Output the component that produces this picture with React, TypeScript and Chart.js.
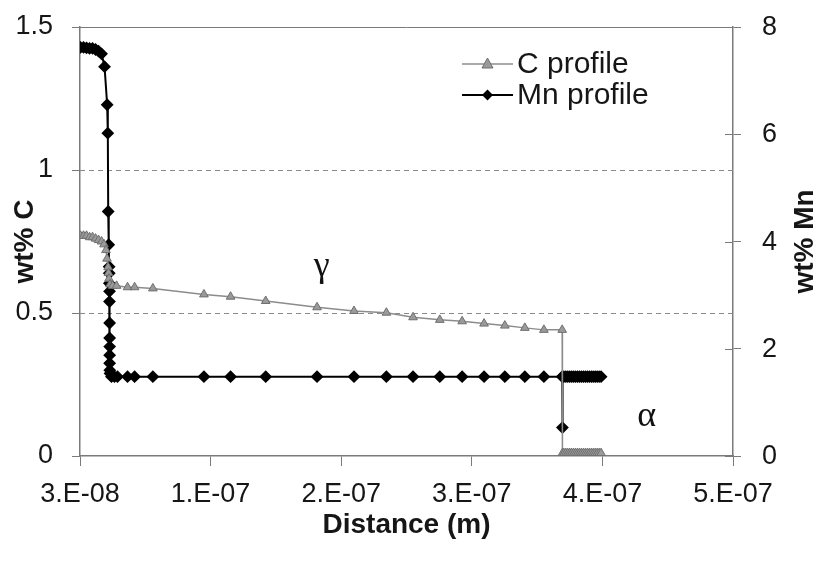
import { useEffect, useRef } from "react";
import { Chart, registerables } from "chart.js";

Chart.register(...registerables);

const X_TICKS = [3e-8, 1.3e-7, 2.3e-7, 3.3e-7, 4.3e-7, 5.3e-7];
const X_TICK_LABELS = ["3.E-08", "1.E-07", "2.E-07", "3.E-07", "4.E-07", "5.E-07"];

const C_LABEL = "C profile";
const MN_LABEL = "Mn profile";
const X_TITLE = "Distance (m)";
const Y_TITLE = "wt% C";
const Y1_TITLE = "wt% Mn";

const C_X = [
  30.4e-9, 32.7e-9, 35.0e-9, 37.3e-9, 39.6e-9, 41.9e-9, 44.2e-9, 46.5e-9, 48.4e-9, 49.9e-9,
  50.7e-9, 51.5e-9, 51.8e-9, 52.2e-9, 53.0e-9, 55.0e-9, 58.0e-9, 66.4e-9, 71.8e-9, 85.8e-9,
  124.9e-9, 145.3e-9, 172.2e-9, 211.5e-9, 239.8e-9, 264.6e-9, 285.0e-9, 305.5e-9, 322.6e-9,
  339.4e-9, 355.3e-9, 370.6e-9, 385.2e-9, 399.2e-9,
  399.4e-9, 400.5e-9, 402.0e-9, 403.5e-9, 405.0e-9, 406.5e-9, 408.0e-9, 409.5e-9, 411.0e-9,
  412.5e-9, 414.0e-9, 415.5e-9, 417.0e-9, 418.5e-9, 420.0e-9, 421.5e-9, 423.0e-9, 424.5e-9,
  426.0e-9, 427.5e-9, 429.0e-9,
];
const C_Y = [
  0.77, 0.77, 0.77, 0.765, 0.765, 0.76, 0.755, 0.75, 0.74, 0.72,
  0.69, 0.66, 0.64, 0.62, 0.6, 0.595, 0.595, 0.59, 0.59, 0.586,
  0.565, 0.557, 0.542, 0.52, 0.507, 0.501, 0.485, 0.476, 0.471,
  0.463, 0.456, 0.448, 0.441, 0.441,
  0.01, 0.01, 0.01, 0.01, 0.01, 0.01, 0.01, 0.01, 0.01,
  0.01, 0.01, 0.01, 0.01, 0.01, 0.01, 0.01, 0.01, 0.01,
  0.01, 0.01, 0.01,
];

const MN_X = [
  30.4e-9, 32.7e-9, 35.0e-9, 37.3e-9, 39.6e-9, 41.9e-9, 44.2e-9, 46.5e-9, 48.8e-9, 50.8e-9,
  51.3e-9, 51.6e-9, 52.0e-9, 52.3e-9, 52.4e-9, 52.5e-9, 52.6e-9, 52.6e-9, 52.7e-9, 52.7e-9,
  52.7e-9, 52.7e-9, 52.7e-9, 52.8e-9, 53.0e-9, 54.1e-9, 56.4e-9, 58.7e-9, 66.4e-9, 71.8e-9,
  85.8e-9, 124.9e-9, 145.3e-9, 172.2e-9, 211.5e-9, 239.8e-9, 264.6e-9, 285.0e-9, 305.5e-9,
  322.6e-9, 339.4e-9, 355.3e-9, 370.6e-9, 385.2e-9, 399.2e-9,
  399.4e-9,
  399.6e-9, 400.5e-9, 402.0e-9, 403.5e-9, 405.0e-9, 406.5e-9, 408.0e-9, 409.5e-9, 411.0e-9,
  412.5e-9, 414.0e-9, 415.5e-9, 417.0e-9, 418.5e-9, 420.0e-9, 421.5e-9, 423.0e-9, 424.5e-9,
  426.0e-9, 427.5e-9, 429.0e-9,
];
const MN_Y = [
  7.62, 7.62, 7.61, 7.6, 7.6, 7.58, 7.55, 7.5, 7.26, 6.55,
  6.02, 4.56, 3.94, 3.53, 3.41, 3.22, 3.07, 2.88, 2.48, 2.2,
  2.04, 1.88, 1.73, 1.6, 1.54, 1.48, 1.48, 1.48, 1.48, 1.48,
  1.48, 1.48, 1.48, 1.48, 1.48, 1.48, 1.48, 1.48, 1.48,
  1.48, 1.48, 1.48, 1.48, 1.48, 1.48,
  0.53,
  1.48, 1.48, 1.48, 1.48, 1.48, 1.48, 1.48, 1.48, 1.48,
  1.48, 1.48, 1.48, 1.48, 1.48, 1.48, 1.48, 1.48, 1.48,
  1.48, 1.48, 1.48,
];

// annotation anchors (data coordinates on x / left y axis)
const GAMMA_POS = { x: 215e-9, y: 0.63, text: "γ" };
const ALPHA_POS = { x: 464e-9, y: 0.105, text: "α" };

const FONT = "'Liberation Sans', Arial, sans-serif";
const AXIS_COLOR = "#7a7a7a";
const TEXT_COLOR = "#161616";
const C_LINE = "#8c8c8c";
const C_FILL = "#9a9a9a";

const decorPlugin = {
  id: "decor",
  beforeDatasetsDraw(chart: any) {
    const { ctx, chartArea, scales } = chart;
    const y = scales.y;
    const y1 = scales.y1;
    ctx.save();
    ctx.strokeStyle = "#8a8a8a";
    ctx.lineWidth = 1;
    ctx.setLineDash([5, 4]);
    for (const v of [0.5, 1]) {
      const py = Math.round(y.getPixelForValue(v)) + 0.5;
      ctx.beginPath();
      ctx.moveTo(chartArea.left, py);
      ctx.lineTo(chartArea.right, py);
      ctx.stroke();
    }
    ctx.setLineDash([]);
    ctx.strokeStyle = AXIS_COLOR;
    const pTop = Math.round(y.getPixelForValue(1.5)) + 0.5;
    ctx.beginPath();
    ctx.moveTo(chartArea.left, pTop);
    ctx.lineTo(chartArea.right, pTop);
    ctx.stroke();
    // inward ticks + labels on the right axis
    ctx.fillStyle = TEXT_COLOR;
    ctx.font = `27px ${FONT}`;
    ctx.textAlign = "left";
    ctx.textBaseline = "middle";
    for (const t of y1.ticks) {
      const py = Math.round(y1.getPixelForValue(t.value)) + 0.5;
      ctx.beginPath();
      ctx.moveTo(chartArea.right - 8, py);
      ctx.lineTo(chartArea.right, py);
      ctx.stroke();
      ctx.fillText(String(t.value), chartArea.right + 29, py);
    }
    // right axis title, rotated like the left one
    ctx.save();
    ctx.translate(805, (chartArea.top + chartArea.bottom) / 2);
    ctx.rotate(-Math.PI / 2);
    ctx.font = `bold 28px ${FONT}`;
    ctx.textAlign = "center";
    ctx.textBaseline = "middle";
    ctx.fillText(Y1_TITLE, 0, 0);
    ctx.restore();
    ctx.restore();
  },
  afterDatasetsDraw(chart: any) {
    const { ctx, scales } = chart;
    const x = scales.x;
    const y = scales.y;
    ctx.save();
    // legend
    const lx0 = 462;
    const lx1 = 513;
    const rows = [
      { label: C_LABEL, yy: 64, color: C_LINE, width: 1.5, marker: "tri" },
      { label: MN_LABEL, yy: 95, color: "#000", width: 2, marker: "dia" },
    ];
    for (const r of rows) {
      ctx.strokeStyle = r.color;
      ctx.lineWidth = r.width;
      ctx.beginPath();
      ctx.moveTo(lx0, r.yy);
      ctx.lineTo(lx1, r.yy);
      ctx.stroke();
      const cx = (lx0 + lx1) / 2;
      ctx.beginPath();
      if (r.marker === "tri") {
        ctx.fillStyle = C_FILL;
        ctx.strokeStyle = "#6f6f6f";
        ctx.lineWidth = 1;
        ctx.moveTo(cx, r.yy - 6);
        ctx.lineTo(cx + 5.5, r.yy + 4);
        ctx.lineTo(cx - 5.5, r.yy + 4);
        ctx.closePath();
        ctx.fill();
        ctx.stroke();
      } else {
        ctx.fillStyle = "#000";
        ctx.moveTo(cx, r.yy - 5.5);
        ctx.lineTo(cx + 5.5, r.yy);
        ctx.lineTo(cx, r.yy + 5.5);
        ctx.lineTo(cx - 5.5, r.yy);
        ctx.closePath();
        ctx.fill();
      }
      ctx.fillStyle = TEXT_COLOR;
      ctx.font = `30px ${FONT}`;
      ctx.textAlign = "left";
      ctx.textBaseline = "middle";
      ctx.fillText(r.label, 517, r.yy + 1);
    }
    // annotations
    ctx.font = `36px 'Liberation Serif', 'Times New Roman', serif`;
    ctx.textAlign = "center";
    ctx.textBaseline = "alphabetic";
    ctx.fillStyle = "#111";
    for (const a of [GAMMA_POS, ALPHA_POS]) {
      ctx.fillText(a.text, x.getPixelForValue(a.x), y.getPixelForValue(a.y));
    }
    ctx.restore();
  },
};

const zeroPad = (s: any) => {
  s.paddingTop = 0;
  s.paddingBottom = 0;
  s.paddingLeft = 0;
  s.paddingRight = 0;
};

export default function App() {
  const canvasRef = useRef<HTMLCanvasElement | null>(null);

  useEffect(() => {
    document.body.style.margin = "0";
    const canvas = canvasRef.current;
    if (!canvas) return;
    const chart = new Chart(canvas, {
      type: "line",
      data: {
        datasets: [
          {
            label: C_LABEL,
            data: C_X.map((xv, i) => ({ x: xv, y: C_Y[i] })),
            yAxisID: "y",
            borderColor: C_LINE,
            borderWidth: 1.5,
            backgroundColor: C_FILL,
            pointStyle: "triangle",
            pointRadius: 5,
            pointBorderColor: "#6f6f6f",
            pointBorderWidth: 1,
            pointBackgroundColor: C_FILL,
            tension: 0,
          },
          {
            label: MN_LABEL,
            data: MN_X.map((xv, i) => ({ x: xv, y: MN_Y[i] })),
            yAxisID: "y1",
            borderColor: "#000",
            borderWidth: 2,
            backgroundColor: "#000",
            pointStyle: "rectRot",
            pointRadius: 5,
            pointBorderColor: "#000",
            pointBackgroundColor: "#000",
            tension: 0,
          },
        ],
      },
      options: {
        responsive: false,
        animation: false,
        parsing: false as any,
        normalized: true,
        layout: { padding: { top: 27, left: 0, right: 0, bottom: 0 } },
        plugins: {
          legend: { display: false },
          tooltip: { enabled: false },
        },
        scales: {
          x: {
            type: "linear",
            position: "bottom",
            min: X_TICKS[0],
            max: X_TICKS[X_TICKS.length - 1],
            afterBuildTicks: (s: any) => {
              s.ticks = X_TICKS.map((value) => ({ value }));
            },
            afterFit: (s: any) => {
              s.height = 107;
              zeroPad(s);
            },
            ticks: {
              autoSkip: false,
              maxRotation: 0,
              padding: 12,
              color: TEXT_COLOR,
              font: { family: FONT, size: 27 },
              callback: (_v: any, i: number) => X_TICK_LABELS[i],
            },
            grid: { drawOnChartArea: false, drawTicks: true, tickLength: 10, color: AXIS_COLOR },
            border: { display: true, color: AXIS_COLOR, width: 1.5 },
            title: {
              display: true,
              text: X_TITLE,
              color: TEXT_COLOR,
              font: { family: FONT, size: 28, weight: "bold" },
              padding: { top: 0, bottom: 21 },
            },
          },
          y: {
            type: "linear",
            position: "left",
            min: 0,
            max: 1.5,
            afterFit: (s: any) => {
              s.width = 80;
              zeroPad(s);
            },
            ticks: {
              stepSize: 0.5,
              padding: 19,
              color: TEXT_COLOR,
              font: { family: FONT, size: 27 },
              callback: (v: any) => String(v),
            },
            grid: { drawOnChartArea: false, drawTicks: true, tickLength: 8, color: AXIS_COLOR },
            border: { display: true, color: AXIS_COLOR, width: 1.5 },
            title: {
              display: true,
              text: Y_TITLE,
              color: TEXT_COLOR,
              font: { family: FONT, size: 28, weight: "bold" },
              padding: { top: 8, bottom: 0 },
            },
          },
          y1: {
            type: "linear",
            position: "right",
            min: 0,
            max: 8,
            afterFit: (s: any) => {
              s.width = 89;
              zeroPad(s);
            },
            ticks: {
              stepSize: 2,
              display: false,
            },
            grid: { drawOnChartArea: false, drawTicks: true, tickLength: 8, color: AXIS_COLOR },
            border: { display: true, color: AXIS_COLOR, width: 1.5 },
            title: { display: false },
          },
        },
      },
      plugins: [decorPlugin],
    });
    return () => chart.destroy();
  }, []);

  return (
    <div style={{ position: "fixed", left: 0, top: 0, width: 822, height: 563, background: "#fff" }}>
      <canvas ref={canvasRef} width={822} height={563} />
    </div>
  );
}
